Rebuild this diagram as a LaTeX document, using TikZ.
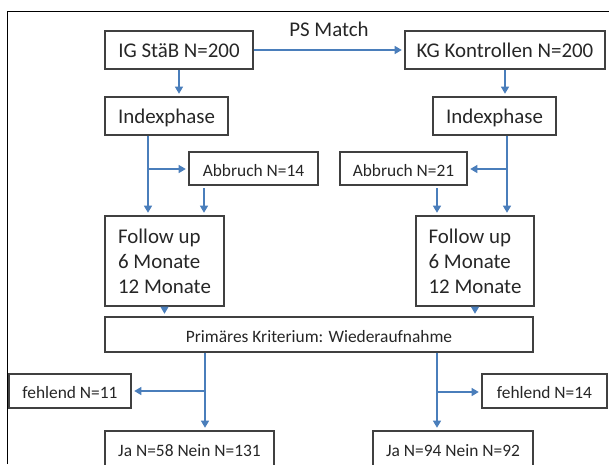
\documentclass[tikz,border=0pt]{standalone}
\usepackage{fontspec}
\setmainfont{Carlito}
\usepackage{xcolor}
\usetikzlibrary{positioning,arrows.meta}
\definecolor{linkblue}{RGB}{74,126,187}
\definecolor{boxgray}{RGB}{64,64,64}

\begin{document}
\begin{tikzpicture}[x=0.02cm,y=-0.02cm,
  box/.style={draw=boxgray,line width=0.7pt,text=black!85,inner sep=2pt},
  bigfont/.style={font=\fontsize{11.9}{14.2}\selectfont},
  oneline/.style={text height=2.1ex,text depth=0.2ex},
  big/.style={box,bigfont,oneline,minimum height=0.76cm},
  tall/.style={box,bigfont,align=left,minimum height=1.8cm},
  small/.style={box,oneline,font=\fontsize{9.9}{12}\selectfont,minimum height=0.68cm},
  link/.style={draw=linkblue,line width=0.8pt,
    -{Triangle[width=4.5pt,length=4pt]},shorten >=1.5pt}]
  \useasboundingbox (0,0) rectangle (609,464);
  \draw[line width=1.1pt] (7.5,464) -- (7.5,11.5) -- (609,11.5);

  % the two groups
  \node[big,minimum width=2.96cm] (ig) at (179,50) {IG StäB N=200};
  \node[big,minimum width=4cm] (kg) at (505,50) {KG Kontrollen N=200};
  \node[big,minimum width=2.46cm] (idxL) at (166.5,116) {Indexphase};
  \node[big,minimum width=2.46cm] (idxR) at (494.5,116) {Indexphase};
  \node[small,minimum width=2.58cm,minimum height=0.66cm] (abbL) at (253.5,168.5) {Abbruch N=14};
  \node[small,minimum width=2.54cm,minimum height=0.66cm] (abbR) at (403.5,168.5) {Abbruch N=21};
  \node[tall,minimum width=2.38cm] (fuL) at (164.5,261) {Follow up\\6 Monate\\12 Monate};
  \node[tall,minimum width=2.36cm] (fuR) at (475,261) {Follow up\\6 Monate\\12 Monate};
  \node[small,minimum width=8.56cm,minimum height=0.7cm] (prim) at (319,334.5)
    {Primäres Kriterium: Wiederaufnahme};
  \node[small,minimum width=2.44cm] (fehL) at (70,391) {fehlend N=11};
  \node[small,minimum width=2.5cm] (fehR) at (544.5,391) {fehlend N=14};
  \node[small,minimum width=3.38cm,minimum height=0.72cm] (jaL) at (189.5,449) {Ja N=58 Nein N=131};
  \node[small,minimum width=3.2cm,minimum height=0.72cm] (jaR) at (453,449) {Ja N=94 Nein N=92};

  % branch points
  \coordinate (bL) at (148,169);
  \coordinate (bR) at (507,169);
  \coordinate (dL) at (204,188);
  \coordinate (dR) at (437,188);
  \coordinate (pL) at (205,391);
  \coordinate (pR) at (437,392);

  \draw[link] (ig) -- node[above=0.1cm,name=ps,bigfont,oneline,text=black!85] {PS Match} (kg);
  \draw[link] (ig) -- (idxL.north -| ig);
  \draw[link] (kg) -- (idxR.north -| kg);
  \draw[link] (idxL.south -| bL) -- (fuL.north -| bL);
  \draw[link] (bL) -- (abbL.west |- bL);
  \draw[link] (idxR.south -| bR) -- (fuR.north -| bR);
  \draw[link] (bR) -- (abbR.east |- bR);
  \draw[link] (dL) -- (fuL.north -| dL);
  \draw[link] (dR) -- (fuR.north -| dR);
  \draw[link] (fuL) -- (prim.north -| fuL);
  \draw[link] (fuR) -- (prim.north -| fuR);
  \draw[link] (prim.south -| pL) -- (jaL.north -| pL);
  \draw[link] (pL) -- (fehL);
  \draw[link] (prim.south -| pR) -- (jaR.north -| pR);
  \draw[link] (pR) -- (fehR.west |- pR);
\end{tikzpicture}
\end{document}
